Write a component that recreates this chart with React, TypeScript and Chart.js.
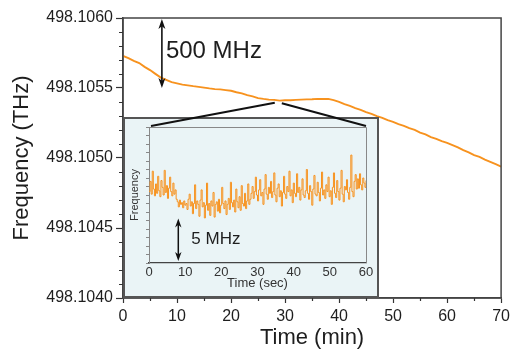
import React, { useEffect, useRef } from 'react';
import { Chart, registerables } from 'chart.js';
Chart.register(...registerables);

// ---------- main chart data ----------
const timeMin = [
  0, 1, 2, 3, 4, 5, 6, 7, 8, 9, 10, 11, 12, 13, 14, 15, 16, 17, 18, 19, 20,
  21, 22, 23, 24, 25, 26, 27, 28, 29, 30, 31, 32, 33, 34, 35, 36, 37, 38, 39, 40,
  41, 42, 43, 44, 45, 46, 47, 48, 49, 50, 51, 52, 53, 54, 55, 56, 57, 58, 59, 60,
  61, 62, 63, 64, 65, 66, 67, 68, 69, 70,
];
const freqTHz = [
  498.105729, 498.105714, 498.105694, 498.105678, 498.105651, 498.105628, 498.105601, 498.105574,
  498.105558, 498.105542, 498.105533, 498.105524, 498.105519, 498.105513, 498.105508, 498.105503,
  498.105497, 498.105492, 498.105490, 498.105485, 498.105480, 498.105470, 498.105462, 498.105449,
  498.105440, 498.105428, 498.105422, 498.105417, 498.105415, 498.105410, 498.105412, 498.105413,
  498.105415, 498.105417, 498.105419, 498.105420, 498.105422, 498.105421, 498.105422, 498.105413,
  498.105401, 498.105385, 498.105372, 498.105356, 498.105344, 498.105328, 498.105315, 498.105299,
  498.105287, 498.105270, 498.105258, 498.105242, 498.105230, 498.105213, 498.105201, 498.105181,
  498.105169, 498.105149, 498.105137, 498.105120, 498.105108, 498.105092, 498.105076, 498.105056,
  498.105040, 498.105020, 498.105008, 498.104988, 498.104972, 498.104956, 498.104939,
];
const yTicksTHz = [498.104, 498.1045, 498.105, 498.1055, 498.106];
const xTicksMin = [0, 10, 20, 30, 40, 50, 60, 70];

// ---------- inset data (relative frequency, MHz, over 0..60 s) ----------
const insetFreqMHz = [
  8.4, 9.6, 8.1, 10.8, 8.7, 7.9, 9.3, 8.2, 10.2, 8.5, 7.8, 9.7, 8.9, 8.0, 10.9, 8.3, 9.1, 7.6, 8.8, 10.1,
  8.4, 7.9, 9.4, 8.1, 8.6, 7.5,
  7.2, 6.6, 7.4, 6.9, 7.1, 6.5, 7.3, 6.8, 7.0, 6.3, 7.5, 8.1, 6.7, 7.2, 5.8, 7.0, 9.2, 6.4, 7.3, 6.9,
  5.5, 7.4, 8.6, 6.6, 7.1, 5.3, 6.8, 9.4, 6.2, 7.0, 5.6, 7.3, 6.7, 8.3, 5.4, 6.9, 7.2, 6.1, 7.5, 5.9,
  6.8, 8.9, 7.0, 6.4, 7.3, 5.7, 6.9, 7.6, 6.3, 9.5, 7.1, 6.6, 7.4, 6.0, 8.7, 7.2, 6.5, 7.8, 6.2, 9.1,
  7.0, 6.7, 8.2, 6.4, 7.3, 9.3, 6.9, 7.5,
  8.2, 9.0, 7.6, 8.4, 10.1, 8.0, 7.3, 8.6, 9.8, 7.9, 8.3, 6.9, 8.7, 10.4, 8.1, 7.5, 8.9, 8.2, 9.6, 7.7,
  8.4, 10.6, 8.0, 7.2, 8.8, 9.3, 7.8, 8.5, 6.7, 8.3, 10.2, 8.1, 7.6, 9.0, 8.4, 10.8, 7.9, 8.6, 7.1, 9.4,
  8.2, 7.8, 10.5, 8.3, 8.9, 7.4, 8.6, 9.9, 8.0, 7.7, 8.5, 11.0, 8.2, 7.5, 9.1, 8.4, 6.8, 8.7, 10.3, 8.1,
  7.9, 9.5, 8.3, 7.3, 8.8, 10.7, 8.0, 8.6, 7.6, 9.2, 8.4, 10.1, 7.8, 8.5, 6.9, 8.9, 10.6, 8.2, 7.7, 9.7,
  8.4, 7.4, 8.8, 10.9, 8.1, 7.2, 9.0, 8.6, 9.8, 8.3, 7.5, 8.9, 12.7, 8.4, 7.8, 9.6, 10.4, 8.7, 9.9, 8.8,
  10.5, 9.2, 8.6, 10.0, 9.4, 8.9, 9.7,
];
const insetDurationSec = 60;
const insetXTicks = [0, 10, 20, 30, 40, 50, 60];

const ORANGE = '#F7921E';
const FONT = '"Liberation Sans", Arial, Helvetica, sans-serif';
const INK = '#1e1e1e';

function drawDoubleArrow(ctx: CanvasRenderingContext2D, x: number, yTop: number, yBot: number, head: number, hw: number, lw: number) {
  ctx.save();
  ctx.strokeStyle = '#111';
  ctx.fillStyle = '#111';
  ctx.lineWidth = lw;
  ctx.beginPath();
  ctx.moveTo(x, yTop + head * 0.6);
  ctx.lineTo(x, yBot - head * 0.6);
  ctx.stroke();
  ctx.beginPath();
  ctx.moveTo(x, yTop);
  ctx.lineTo(x - hw, yTop + head);
  ctx.lineTo(x, yTop + head * 0.72);
  ctx.lineTo(x + hw, yTop + head);
  ctx.closePath();
  ctx.fill();
  ctx.beginPath();
  ctx.moveTo(x, yBot);
  ctx.lineTo(x - hw, yBot - head);
  ctx.lineTo(x, yBot - head * 0.72);
  ctx.lineTo(x + hw, yBot - head);
  ctx.closePath();
  ctx.fill();
  ctx.restore();
}

export default function App() {
  const mainRef = useRef<HTMLCanvasElement>(null);
  const insetRef = useRef<HTMLCanvasElement>(null);

  useEffect(() => {
    if (!mainRef.current || !insetRef.current) return;

    const mainDecor = {
      id: 'mainDecor',
      afterDraw(chart: any) {
        const { ctx, chartArea: a, scales } = chart;
        const xs = scales.x, ys = scales.y;
        ctx.save();
        // frame
        ctx.strokeStyle = '#444';
        ctx.lineWidth = 1.5;
        ctx.strokeRect(a.left, a.top, a.right - a.left, a.bottom - a.top);
        // minor ticks
        ctx.lineWidth = 1.2;
        ctx.strokeStyle = '#333';
        ctx.beginPath();
        for (let k = 1; k < 20; k++) {
          if (k % 5 === 0) continue;
          const y = Math.round(ys.getPixelForValue(498.104 + k * 0.0001)) + 0.5;
          ctx.moveTo(a.left - 4, y);
          ctx.lineTo(a.left, y);
        }
        for (let t = 5; t < 70; t += 10) {
          const x = Math.round(xs.getPixelForValue(t)) + 0.5;
          ctx.moveTo(x, a.bottom);
          ctx.lineTo(x, a.bottom + 3);
        }
        ctx.stroke();
        // 500 MHz arrow
        const ax = xs.getPixelForValue(7.2);
        const y1 = ys.getPixelForValue(498.106);
        const y2 = ys.getPixelForValue(498.1055);
        drawDoubleArrow(ctx, ax, y1 + 1, y2, 10, 3.5, 1.6);
        ctx.fillStyle = INK;
        ctx.font = `24px ${FONT}`;
        ctx.textBaseline = 'middle';
        ctx.textAlign = 'left';
        ctx.fillText('500 MHz', ax + 4, (y1 + y2) / 2 - 2);
        ctx.restore();
      },
    };

    const main = new Chart(mainRef.current, {
      type: 'line',
      data: {
        datasets: [
          {
            data: timeMin.map((t, i) => ({ x: t, y: freqTHz[i] })),
            borderColor: ORANGE,
            borderWidth: 1.9,
            pointRadius: 0,
            tension: 0,
            fill: false,
          },
        ],
      },
      options: {
        animation: false,
        responsive: false,
        events: [],
        layout: { padding: { top: 18, right: 12, left: 0, bottom: 0 } },
        plugins: { legend: { display: false }, tooltip: { enabled: false } },
        scales: {
          x: {
            type: 'linear',
            min: 0,
            max: 70,
            afterBuildTicks: (s: any) => {
              s.ticks = xTicksMin.map((v) => ({ value: v }));
            },
            afterFit: (s: any) => {
              s.height = 52;
            },
            grid: { drawOnChartArea: false, tickLength: 5, tickColor: '#333', tickWidth: 1.2 },
            border: { color: '#444', width: 1.5 },
            ticks: { font: { family: FONT, size: 16 }, color: INK, padding: 4, maxRotation: 0, autoSkip: false },
            title: {
              display: true,
              text: 'Time (min)',
              font: { family: FONT, size: 22, lineHeight: 1 },
              color: INK,
              padding: { top: 0, bottom: 1 },
            },
          },
          y: {
            type: 'linear',
            min: 498.104,
            max: 498.106,
            afterBuildTicks: (s: any) => {
              s.ticks = yTicksTHz.map((v) => ({ value: v }));
            },
            afterFit: (s: any) => {
              s.width = 123;
            },
            grid: { drawOnChartArea: false, tickLength: 7, tickColor: '#333', tickWidth: 1.2 },
            border: { color: '#444', width: 1.5 },
            ticks: {
              font: { family: FONT, size: 16 },
              color: INK,
              padding: 3,
              autoSkip: false,
              callback: (v: any) => Number(v).toFixed(4),
            },
            title: {
              display: true,
              text: 'Frequency (THz)',
              font: { family: FONT, size: 22, lineHeight: 1 },
              color: INK,
              padding: { top: 11, bottom: 0 },
            },
          },
        },
      },
      plugins: [mainDecor],
    });

    const insetLeft = 122, insetTop = 96;
    const n = insetFreqMHz.length;

    const insetDecor = {
      id: 'insetDecor',
      beforeDraw(chart: any) {
        const { ctx } = chart;
        ctx.save();
        ctx.fillStyle = '#EAF4F6';
        ctx.fillRect(2, 22, 254, 179);
        ctx.strokeStyle = '#555';
        ctx.lineWidth = 2;
        ctx.strokeRect(2, 22, 254, 179);
        ctx.restore();
      },
      afterDraw(chart: any) {
        const { ctx, chartArea: a, scales } = chart;
        ctx.save();
        // inner frame top and right
        ctx.strokeStyle = '#888';
        ctx.lineWidth = 1;
        ctx.beginPath();
        ctx.moveTo(a.left, a.top + 0.5);
        ctx.lineTo(a.right + 0.5, a.top + 0.5);
        ctx.lineTo(a.right + 0.5, a.bottom);
        ctx.stroke();
        // connector lines to the main curve
        const mx = main.scales.x, my = main.scales.y;
        const lx = mx.getPixelForValue(28.1) - insetLeft;
        const ly = my.getPixelForValue(498.105395) - insetTop;
        const rx = mx.getPixelForValue(29.4) - insetLeft;
        const ry = my.getPixelForValue(498.105391) - insetTop;
        ctx.strokeStyle = '#111';
        ctx.lineWidth = 2;
        ctx.beginPath();
        ctx.moveTo(a.left + 2, a.top - 1);
        ctx.lineTo(lx, ly);
        ctx.moveTo(rx, ry);
        ctx.lineTo(a.right, a.top - 1);
        ctx.stroke();
        // 5 MHz arrow
        const xs = scales.x, ys = scales.y;
        const ax = xs.getPixelForValue(8.1);
        const yT = ys.getPixelForValue(5.25);
        const yB = ys.getPixelForValue(0.25);
        drawDoubleArrow(ctx, ax, yT, yB, 9, 3.2, 1.5);
        ctx.fillStyle = INK;
        ctx.font = `17px ${FONT}`;
        ctx.textBaseline = 'middle';
        ctx.textAlign = 'left';
        ctx.fillText('5 MHz', ax + 13, (yT + yB) / 2);
        ctx.restore();
      },
    };

    const inset = new Chart(insetRef.current, {
      type: 'line',
      data: {
        datasets: [
          {
            data: insetFreqMHz.map((v, i) => ({ x: (i * insetDurationSec) / (n - 1), y: v })),
            borderColor: ORANGE,
            borderWidth: 1,
            pointRadius: 0,
            stepped: true,
            fill: false,
          },
        ],
      },
      options: {
        animation: false,
        responsive: false,
        events: [],
        layout: { padding: { top: 31, right: 18, left: 0, bottom: 0 } },
        plugins: { legend: { display: false }, tooltip: { enabled: false } },
        scales: {
          x: {
            type: 'linear',
            min: 0,
            max: 60,
            afterBuildTicks: (s: any) => {
              s.ticks = insetXTicks.map((v) => ({ value: v }));
            },
            afterFit: (s: any) => {
              s.height = 37;
            },
            grid: { drawOnChartArea: false, drawTicks: false },
            border: { color: '#444', width: 1.3, dash: [1, 1.6] },
            ticks: { font: { family: FONT, size: 13 }, color: '#333', padding: 2, maxRotation: 0, autoSkip: false },
            title: {
              display: true,
              text: 'Time (sec)',
              font: { family: FONT, size: 13, lineHeight: 1 },
              color: '#333',
              padding: { top: 0, bottom: 10.5 },
            },
          },
          y: {
            type: 'linear',
            min: 0,
            max: 16,
            afterFit: (s: any) => {
              s.width = 27;
            },
            grid: { drawOnChartArea: false, tickLength: 3, tickColor: '#888', tickWidth: 1 },
            border: { color: '#888', width: 1 },
            ticks: { stepSize: 1, autoSkip: false, callback: () => '' },
            title: {
              display: true,
              text: 'Frequency',
              font: { family: FONT, size: 11, lineHeight: 1 },
              color: '#333',
              padding: { top: 7.5, bottom: 0 },
            },
          },
        },
      },
      plugins: [insetDecor],
    });

    return () => {
      inset.destroy();
      main.destroy();
    };
  }, []);

  return (
    <div style={{ position: 'absolute', left: 0, top: 0, width: 514, height: 350, background: '#fff' }}>
      <canvas ref={mainRef} width={514} height={350} style={{ position: 'absolute', left: 0, top: 0 }} />
      <canvas ref={insetRef} width={262} height={204} style={{ position: 'absolute', left: 122, top: 96 }} />
    </div>
  );
}
